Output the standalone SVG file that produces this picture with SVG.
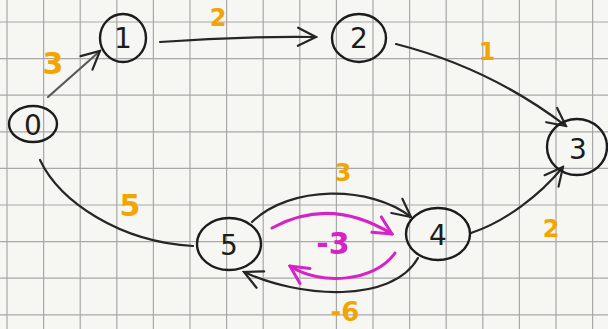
<svg xmlns="http://www.w3.org/2000/svg" width="608" height="329" viewBox="0 0 608 329">
<defs>
<style>
.grid line{stroke:#a8a8a8;stroke-width:1.2}
.node ellipse{fill:none;stroke:#1c1c1c;stroke-width:2.4}
.nl{font-family:"DejaVu Sans",sans-serif;font-size:28px;fill:#1c1c1c;text-anchor:middle;dominant-baseline:central}
.e{fill:none;stroke:#262626;stroke-width:2.2;stroke-linecap:round}
.m{fill:none;stroke:#d622c8;stroke-width:3;stroke-linecap:round}
.w{font-family:"DejaVu Sans",sans-serif;font-weight:bold;fill:#f2a400;text-anchor:middle;dominant-baseline:central}
.wm{font-family:"DejaVu Sans",sans-serif;font-weight:bold;fill:#d622c8;text-anchor:middle;dominant-baseline:central}
</style>
<marker id="ah" viewBox="0 0 22 22" refX="20" refY="11" markerWidth="22" markerHeight="22" markerUnits="userSpaceOnUse" orient="auto">
<path d="M2,2 L20,11 L2,20" fill="none" stroke="#262626" stroke-width="2.2" stroke-linecap="round"/>
</marker>
<marker id="am" viewBox="0 0 22 22" refX="20" refY="11" markerWidth="22" markerHeight="22" markerUnits="userSpaceOnUse" orient="auto">
<path d="M2,2 L20,11 L2,20" fill="none" stroke="#d622c8" stroke-width="3" stroke-linecap="round"/>
</marker>
</defs>
<rect width="608" height="329" fill="#f6f6f3"/>
<g class="grid">
<line x1="7" y1="0" x2="7" y2="329"/><line x1="43.6" y1="0" x2="43.6" y2="329"/><line x1="80.2" y1="0" x2="80.2" y2="329"/><line x1="116.8" y1="0" x2="116.8" y2="329"/><line x1="153.4" y1="0" x2="153.4" y2="329"/><line x1="190" y1="0" x2="190" y2="329"/><line x1="226.6" y1="0" x2="226.6" y2="329"/><line x1="263.2" y1="0" x2="263.2" y2="329"/><line x1="299.8" y1="0" x2="299.8" y2="329"/><line x1="336.4" y1="0" x2="336.4" y2="329"/><line x1="373" y1="0" x2="373" y2="329"/><line x1="409.6" y1="0" x2="409.6" y2="329"/><line x1="446.2" y1="0" x2="446.2" y2="329"/><line x1="482.8" y1="0" x2="482.8" y2="329"/><line x1="519.4" y1="0" x2="519.4" y2="329"/><line x1="556" y1="0" x2="556" y2="329"/><line x1="592.6" y1="0" x2="592.6" y2="329"/>
<line x1="0" y1="22" x2="608" y2="22"/><line x1="0" y1="58.6" x2="608" y2="58.6"/><line x1="0" y1="95.2" x2="608" y2="95.2"/><line x1="0" y1="131.8" x2="608" y2="131.8"/><line x1="0" y1="168.4" x2="608" y2="168.4"/><line x1="0" y1="205" x2="608" y2="205"/><line x1="0" y1="241.6" x2="608" y2="241.6"/><line x1="0" y1="278.2" x2="608" y2="278.2"/><line x1="0" y1="314.8" x2="608" y2="314.8"/>
</g>
<g id="connectors">
<path class="e" style="stroke:#585858" d="M48,97 L100,51" marker-end="url(#ah)"/>
<path class="e" d="M160,42 Q240,36 316,37" marker-end="url(#ah)"/>
<path class="e" d="M396,44 Q490,68 566,126" marker-end="url(#ah)"/>
<path class="e" d="M40,160 C60,202 120,242 193,246"/>
<path class="e" d="M252,222 C290,185 370,185 411,217" marker-end="url(#ah)"/>
<path class="e" d="M418,258 C392,304 300,298 244,272" marker-end="url(#ah)"/>
<path class="e" d="M471,233 C505,222 540,195 563,167" marker-end="url(#ah)"/>
<path class="m" d="M272,228 Q330,196 392,234" marker-end="url(#am)"/>
<path class="m" d="M395,253 C375,282 320,286 290,266" marker-end="url(#am)"/>
</g>
<g id="weights">
<text class="w" x="53" y="63" font-size="30">3</text>
<text class="w" x="218" y="18" font-size="24">2</text>
<text class="w" x="487" y="52" font-size="24">1</text>
<text class="w" x="130" y="205" font-size="30">5</text>
<text class="w" x="343" y="173" font-size="24">3</text>
<text class="w" x="345" y="312" font-size="26">-6</text>
<text class="w" x="551" y="229" font-size="24">2</text>
<text class="wm" x="333" y="243" font-size="30">-3</text>
</g>
<g id="node0" class="node"><ellipse cx="33" cy="124" rx="24" ry="18"/><text class="nl" x="33" y="125" font-size="18">0</text></g>
<g id="node1" class="node"><ellipse cx="123" cy="38" rx="23" ry="24"/><text class="nl" x="123" y="38">1</text></g>
<g id="node2" class="node"><ellipse cx="359" cy="38" rx="27" ry="24"/><text class="nl" x="359" y="38">2</text></g>
<g id="node3" class="node"><ellipse cx="577" cy="147" rx="30" ry="28"/><text class="nl" x="578" y="149">3</text></g>
<g id="node4" class="node"><ellipse cx="438" cy="234" rx="32" ry="26"/><text class="nl" x="438" y="235">4</text></g>
<g id="node5" class="node"><ellipse cx="229" cy="244" rx="32" ry="26"/><text class="nl" x="229" y="245">5</text></g>
</svg>
